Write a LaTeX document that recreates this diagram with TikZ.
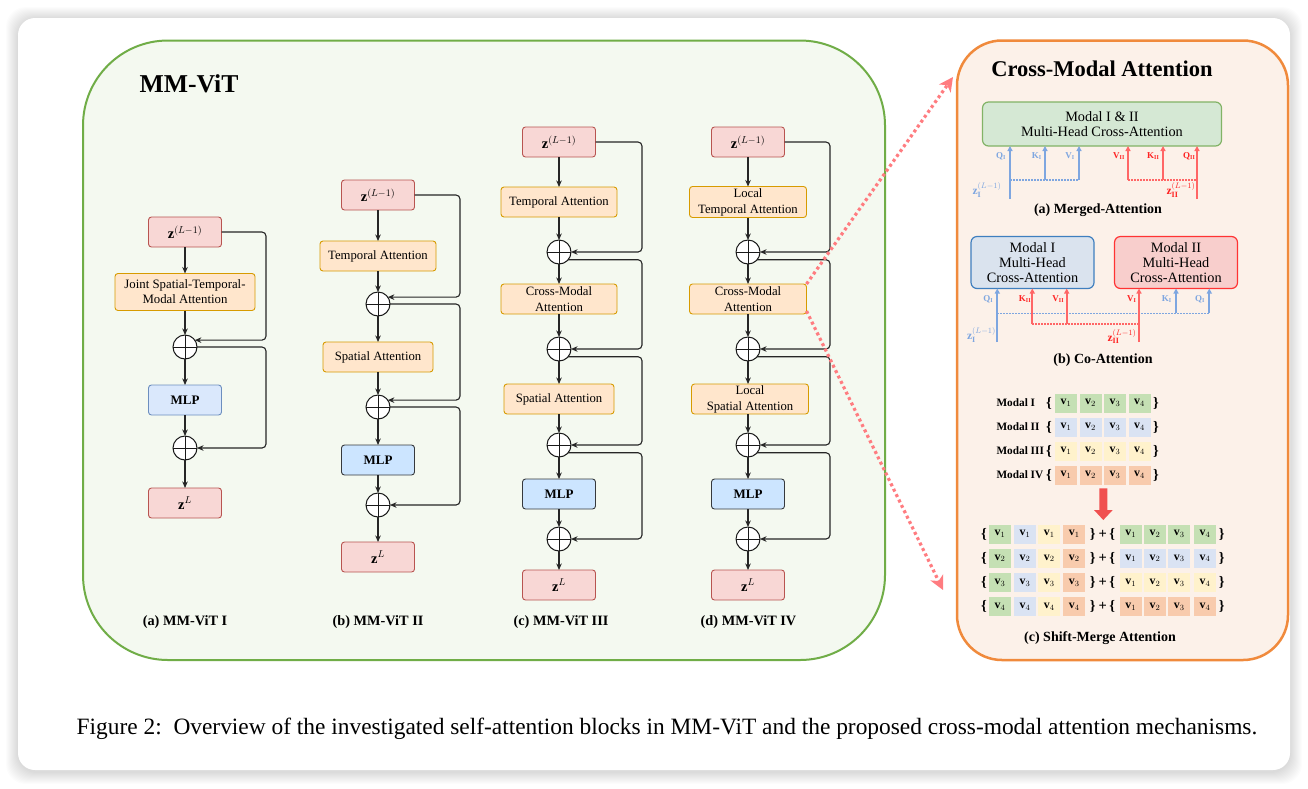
\documentclass[tikz,border=0pt]{standalone}
\usepackage{fontspec}
\setmainfont{Liberation Serif}
\usetikzlibrary{arrows.meta,calc}
\definecolor{zF}{HTML}{F8D7D5}
\definecolor{zS}{HTML}{B85450}
\definecolor{aF}{HTML}{FFE6CC}
\definecolor{aS}{HTML}{D79B00}
\definecolor{mF}{HTML}{DAE8FC}
\definecolor{mS}{HTML}{6C8EBF}
\definecolor{mF2}{HTML}{CCE5FF}
\definecolor{mS2}{HTML}{36393D}
\definecolor{pF}{HTML}{F4F9F0}
\definecolor{pS}{HTML}{70AD47}
\definecolor{oF}{HTML}{FCF1E9}
\definecolor{oS}{HTML}{F08A3C}
\definecolor{gF}{HTML}{D5E8D4}
\definecolor{gS}{HTML}{82B366}
\definecolor{bF}{HTML}{DAE3EE}
\definecolor{bS}{HTML}{3F7FBF}
\definecolor{rF}{HTML}{F8CECC}
\definecolor{rS}{HTML}{FF3333}
\definecolor{bL}{HTML}{7EA6E0}
\definecolor{rL}{HTML}{FF6666}
\definecolor{rT}{HTML}{FF2222}
\definecolor{dR}{HTML}{FF7C80}
\definecolor{cG}{HTML}{C5E0B4}
\definecolor{cB}{HTML}{DAE3F3}
\definecolor{cY}{HTML}{FFF2CC}
\definecolor{cO}{HTML}{F8CBAD}
\definecolor{bA}{HTML}{F05050}
\tikzset{
  every node/.style={inner sep=0pt, outer sep=0pt},
  zbox/.style={draw=zS, fill=zF, rounded corners=3pt, line width=0.9pt, minimum width=73pt, minimum height=30pt, font=\fontsize{14.5}{16}\selectfont},
  abox/.style={draw=aS, fill=aF, rounded corners=3pt, line width=0.9pt, minimum height=30pt, align=center, font=\fontsize{12.7}{16}\selectfont},
  mbox/.style={draw=mS2, fill=mF2, rounded corners=3pt, line width=0.9pt, minimum width=73pt, minimum height=30pt, font=\fontsize{13}{15}\selectfont\bfseries},
  addc/.style={circle, draw=black!90, fill=white, line width=1pt, minimum size=24pt,
    path picture={\draw[line width=1pt, black!90] (path picture bounding box.north) -- (path picture bounding box.south) (path picture bounding box.west) -- (path picture bounding box.east);}},
  arr/.style={-{Stealth[length=6.5pt,width=5.5pt]}, line width=1.1pt, black!85},
  skipc/.style={arr, rounded corners=4pt},
  clab/.style={font=\fontsize{14.3}{16}\selectfont\bfseries},
  dotarr/.style={dR, line width=3.2pt, dash pattern=on 3pt off 3pt, -{Stealth[length=14pt,width=14pt,inset=4pt]}},
  barr/.style={bL, line width=1.8pt, -{Triangle[length=5pt,width=5pt]}},
  rarr/.style={rL, line width=1.8pt, -{Triangle[length=5pt,width=5pt]}},
  bdot/.style={bL, line width=1.1pt, dash pattern=on 1.5pt off 1.5pt},
  rdot/.style={rL, line width=1.1pt, dash pattern=on 1.5pt off 1.5pt},
  qlab/.style={font=\fontsize{9}{10}\selectfont},
  zlab/.style={font=\fontsize{11.5}{12}\selectfont},
  cabox/.style={rounded corners=6pt, line width=1.2pt, align=center, font=\fontsize{14.3}{15}\selectfont},
  sublab/.style={font=\fontsize{14}{16}\selectfont\bfseries},
  smlab/.style={font=\fontsize{11.3}{13}\selectfont\bfseries},
  brc/.style={font=\fontsize{14.5}{14}\selectfont\bfseries},
  cell/.style={minimum width=22pt, minimum height=19pt, font=\fontsize{11.8}{13}\selectfont},
}
\begin{document}
\begin{tikzpicture}[x=1pt,y=-1pt]
\useasboundingbox (0,0) rectangle (1308,788);
\fill[white] (0,0) rectangle (1308,788);
% card shadow
\foreach \i in {1,...,12} {
  \fill[black, opacity=0.010, rounded corners=20pt] (18-\i,19-\i) rectangle (1290+\i,772+\i);
}
\fill[white, rounded corners=17pt] (18,18) rectangle (1290,770);

% panels
\draw[pS, fill=pF, line width=2pt, rounded corners=85pt] (83,40.5) rectangle (885,660);
\draw[oS, fill=oF, line width=2.5pt, rounded corners=45pt] (957,40.5) rectangle (1288,660);
\node[font=\fontsize{25.7}{28}\selectfont\bfseries] (t1) at (189,84) {MM-ViT};
\node[font=\fontsize{22.5}{25}\selectfont\bfseries] (t2) at (1102,69) {Cross-Modal Attention};

% ---------- Column I ----------
\node[zbox] (a0) at (185,232) {$\mathbf{z}^{(L-1)}$};
\node[abox, minimum width=140pt, minimum height=37pt, font=\fontsize{12.8}{15}\selectfont] (a1) at (185,292) {Joint Spatial-Temporal-\\Modal Attention};
\node[addc] (a2) at (185,347) {};
\node[mbox, draw=mS, fill=mF] (a3) at (185,400) {MLP};
\node[addc] (a4) at (185,448) {};
\node[zbox] (a5) at (185,503) {$\mathbf{z}^{L}$};
\coordinate (ar) at (266,0);
\draw[arr] (a0) -- (a1);
\draw[arr] (a1) -- (a2);
\draw[arr] (a2) -- (a3);
\draw[arr] (a3) -- (a4);
\draw[arr] (a4) -- (a5);
\draw[skipc] (a0.east) -- (a0.east -| ar) |- (a2.35);
\draw[skipc] (a2.east) -- (a2.east -| ar) |- (a4.east);
\node[clab] (la) at (185,622) {(a) MM-ViT I};

% ---------- Column II ----------
\node[zbox] (b0) at (378,195) {$\mathbf{z}^{(L-1)}$};
\node[abox, minimum width=116pt] (b1) at (378,256) {Temporal Attention};
\node[addc] (b2) at (378,304) {};
\node[abox, minimum width=110pt] (b3) at (378,357) {Spatial Attention};
\node[addc] (b4) at (378,407) {};
\node[mbox] (b5) at (378,460) {MLP};
\node[addc] (b6) at (378,505) {};
\node[zbox] (b7) at (378,557) {$\mathbf{z}^{L}$};
\coordinate (br) at (460,0);
\draw[arr] (b0) -- (b1);
\draw[arr] (b1) -- (b2);
\draw[arr] (b2) -- (b3);
\draw[arr] (b3) -- (b4);
\draw[arr] (b4) -- (b5);
\draw[arr] (b5) -- (b6);
\draw[arr] (b6) -- (b7);
\draw[skipc] (b0.east) -- (b0.east -| br) |- (b2.35);
\draw[skipc] (b2.east) -- (b2.east -| br) |- (b4.35);
\draw[skipc] (b4.east) -- (b4.east -| br) |- (b6.east);
\node[clab] (lb) at (378,622) {(b) MM-ViT II};

% ---------- Column III ----------
\node[zbox] (c0) at (559,142) {$\mathbf{z}^{(L-1)}$};
\node[abox, minimum width=116pt] (c1) at (559,202) {Temporal Attention};
\node[addc] (c2) at (559,252) {};
\node[abox, minimum width=116pt] (c3) at (559,299) {Cross-Modal\\Attention};
\node[addc] (c4) at (559,349) {};
\node[abox, minimum width=110pt] (c5) at (559,399) {Spatial Attention};
\node[addc] (c6) at (559,445) {};
\node[mbox] (c7) at (559,494) {MLP};
\node[addc] (c8) at (559,539) {};
\node[zbox] (c9) at (559,585) {$\mathbf{z}^{L}$};
\coordinate (cr) at (642,0);
\draw[arr] (c0) -- (c1);
\draw[arr] (c1) -- (c2);
\draw[arr] (c2) -- (c3);
\draw[arr] (c3) -- (c4);
\draw[arr] (c4) -- (c5);
\draw[arr] (c5) -- (c6);
\draw[arr] (c6) -- (c7);
\draw[arr] (c7) -- (c8);
\draw[arr] (c8) -- (c9);
\draw[skipc] (c0.east) -- (c0.east -| cr) |- (c2.east);
\draw[skipc] (c2.-40) -- (c2.-40 -| cr) |- (c4.east);
\draw[skipc] (c4.-40) -- (c4.-40 -| cr) |- (c6.east);
\draw[skipc] (c6.-40) -- (c6.-40 -| cr) |- (c8.east);
\node[clab] (lc) at (561,622) {(c) MM-ViT III};

% ---------- Column IV ----------
\node[zbox] (d0) at (748,142) {$\mathbf{z}^{(L-1)}$};
\node[abox, minimum width=117pt, minimum height=31pt] (d1) at (748,202) {Local\\Temporal Attention};
\node[addc] (d2) at (748,252) {};
\node[abox, minimum width=117pt] (d3) at (748,299) {Cross-Modal\\Attention};
\node[addc] (d4) at (748,349) {};
\node[abox, minimum width=117pt] (d5) at (750,399) {Local\\Spatial Attention};
\node[addc] (d6) at (748,445) {};
\node[mbox] (d7) at (748,494) {MLP};
\node[addc] (d8) at (748,539) {};
\node[zbox] (d9) at (748,585) {$\mathbf{z}^{L}$};
\coordinate (dr) at (830,0);
\draw[arr] (d0) -- (d1);
\draw[arr] (d1) -- (d2);
\draw[arr] (d2) -- (d3);
\draw[arr] (d3) -- (d4);
\draw[arr] (d4) -- (d4 |- d5.north);
\draw[arr] (d5.south -| d6) -- (d6);
\draw[arr] (d6) -- (d7);
\draw[arr] (d7) -- (d8);
\draw[arr] (d8) -- (d9);
\draw[skipc] (d0.east) -- (d0.east -| dr) |- (d2.east);
\draw[skipc] (d2.-40) -- (d2.-40 -| dr) |- (d4.east);
\draw[skipc] (d4.-40) -- (d4.-40 -| dr) |- (d6.east);
\draw[skipc] (d6.-40) -- (d6.-40 -| dr) |- (d8.east);
\node[clab] (ld) at (748.5,622) {(d) MM-ViT IV};

% dotted connectors to the Cross-Modal panel
\coordinate (ua) at (953,77);
\coordinate (la2) at (943,590);
\draw[dotarr] (d3.north east) -- (ua);
\draw[dotarr] ($(d3.south east)+(0,-3)$) -- (la2);

% ---------- (a) Merged-Attention ----------
\node[cabox, draw=gS, fill=gF, minimum width=239pt, minimum height=44pt] (ga) at (1102,124) {Modal I \& II\\Multi-Head Cross-Attention};
\coordinate (qa) at (1010,199);
\coordinate (ka) at (1045,180);
\coordinate (va) at (1079,180);
\coordinate (vb) at (1128,180);
\coordinate (kb) at (1163,180);
\coordinate (qb) at (1197,199);
\draw[bdot] (qa |- ka) -- (va);
\draw[rdot] (vb) -- (qb |- vb);
\draw[barr] (qa) -- (qa |- ga.south);
\draw[barr] (ka) -- (ka |- ga.south);
\draw[barr] (va) -- (va |- ga.south);
\draw[rarr] (vb) -- (vb |- ga.south);
\draw[rarr] (kb) -- (kb |- ga.south);
\draw[rarr] (qb) -- (qb |- ga.south);
\node[qlab, text=bL] (aq1) at (1001,156) {$\mathbf{Q}_{\mathbf{I}}$};
\node[qlab, text=bL] (ak1) at (1036.7,156) {$\mathbf{K}_{\mathbf{I}}$};
\node[qlab, text=bL] (av1) at (1070,156) {$\mathbf{V}_{\mathbf{I}}$};
\node[qlab, text=rT] (av2) at (1119,156) {$\mathbf{V}_{\mathbf{II}}$};
\node[qlab, text=rT] (ak2) at (1153.3,156) {$\mathbf{K}_{\mathbf{II}}$};
\node[qlab, text=rT] (aq2) at (1189.3,156) {$\mathbf{Q}_{\mathbf{II}}$};
\node[zlab, text=bL] (az1) at (987,190) {$\mathbf{z}_{\mathbf{I}}^{(L-1)}$};
\node[zlab, text=rT] (az2) at (1181,190) {$\mathbf{z}_{\mathbf{II}}^{(L-1)}$};
\node[sublab] (sa) at (1098,210) {(a) Merged-Attention};

% ---------- (b) Co-Attention ----------
\node[cabox, draw=bS, fill=bF, minimum width=123pt, minimum height=52pt] (bm) at (1032.5,262.5) {Modal I\\Multi-Head\\Cross-Attention};
\node[cabox, draw=rS, fill=rF, minimum width=123pt, minimum height=52pt] (rm) at (1176,262.5) {Modal II\\Multi-Head\\Cross-Attention};
\coordinate (p1) at (997.3,342);
\coordinate (p2) at (1032.3,324);
\coordinate (p3) at (1066.7,324);
\coordinate (p4) at (1139,342);
\coordinate (p5) at (1176,313.3);
\coordinate (p6) at (1209.3,313.3);
\draw[bdot] (p1 |- p5) -- (p6);
\draw[rdot] (p2) -- (p4 |- p2);
\draw[barr] (p1) -- (p1 |- bm.south);
\draw[rarr] (p2) -- (p2 |- bm.south);
\draw[rarr] (p3) -- (p3 |- bm.south);
\draw[rarr] (p4) -- (p4 |- rm.south);
\draw[barr] (p5) -- (p5 |- rm.south);
\draw[barr] (p6) -- (p6 |- rm.south);
\node[qlab, text=bL] (bq1) at (988.3,299) {$\mathbf{Q}_{\mathbf{I}}$};
\node[qlab, text=rT] (bk2) at (1025,299) {$\mathbf{K}_{\mathbf{II}}$};
\node[qlab, text=rT] (bv2) at (1058.3,299) {$\mathbf{V}_{\mathbf{II}}$};
\node[qlab, text=rT] (bv1) at (1131.7,299) {$\mathbf{V}_{\mathbf{I}}$};
\node[qlab, text=bL] (bk1) at (1166.7,299) {$\mathbf{K}_{\mathbf{I}}$};
\node[qlab, text=bL] (bq3) at (1200,299) {$\mathbf{Q}_{\mathbf{I}}$};
\node[zlab, text=bL] (bz1) at (981.5,335) {$\mathbf{z}_{\mathbf{I}}^{(L-1)}$};
\node[zlab, text=rT] (bz2) at (1122,336.5) {$\mathbf{z}_{\mathbf{II}}^{(L-1)}$};
\node[sublab] (sb) at (1103,360) {(b) Co-Attention};

% ---------- (c) Shift-Merge Attention ----------
\foreach \lab/\col [count=\r] in {Modal I/cG, Modal II/cB, Modal III/cY, Modal IV/cO} {
  \pgfmathsetmacro\yy{403+24*(\r-1)}
  \node[smlab, anchor=west] (ml\r) at (996.5,\yy) {\lab};
  \node[brc] (lbr\r) at (1049,\yy) {\{};
  \foreach \k in {1,...,4} {
    \node[cell, fill=\col] (t\r\k) at ({1066+24.5*(\k-1)},\yy) {$\mathbf{v}_{\k}$};
  }
  \node[brc] (rbr\r) at (1156,\yy) {\}};
}
\node (ah) at (1103.3,504) {};
\fill[bA] (1099.3,488.3) -- (1107.3,488.3) -- (1107.3,510) -- (1112.7,510) -- (1103.3,520) -- (1094,510) -- (1099.3,510) -- cycle;
\foreach \r/\rc in {1/cG,2/cB,3/cY,4/cO} {
  \pgfmathsetmacro\yy{534+24.2*(\r-1)}
  \node[brc] (sl\r) at (984,\yy) {\{};
  \node[cell, fill=cG] (s\r a) at (1000,\yy) {$\mathbf{v}_{\r}$};
  \node[cell, fill=cB] (s\r b) at (1025,\yy) {$\mathbf{v}_{\r}$};
  \node[cell, fill=cY] (s\r c) at (1049.3,\yy) {$\mathbf{v}_{\r}$};
  \node[cell, fill=cO] (s\r d) at (1074.3,\yy) {$\mathbf{v}_{\r}$};
  \node[brc] (sr\r) at (1092.7,\yy) {\}};
  \node[brc] (sp\r) at (1102.7,\yy) {+};
  \node[brc] (sm\r) at (1112.3,\yy) {\{};
  \foreach \k/\xx in {1/1130.7,2/1155,3/1179.3,4/1205} {
    \node[cell, fill=\rc] (u\r\k) at (\xx,\yy) {$\mathbf{v}_{\k}$};
  }
  \node[brc] (se\r) at (1221.7,\yy) {\}};
}
\node[sublab] (sc) at (1100,638.5) {(c) Shift-Merge Attention};

% caption
\node[font=\fontsize{23.4}{26}\selectfont] (cap) at (667,729) {Figure 2:\ \ Overview of the investigated self-attention blocks in MM-ViT and the proposed cross-modal attention mechanisms.};
\end{tikzpicture}
\end{document}
